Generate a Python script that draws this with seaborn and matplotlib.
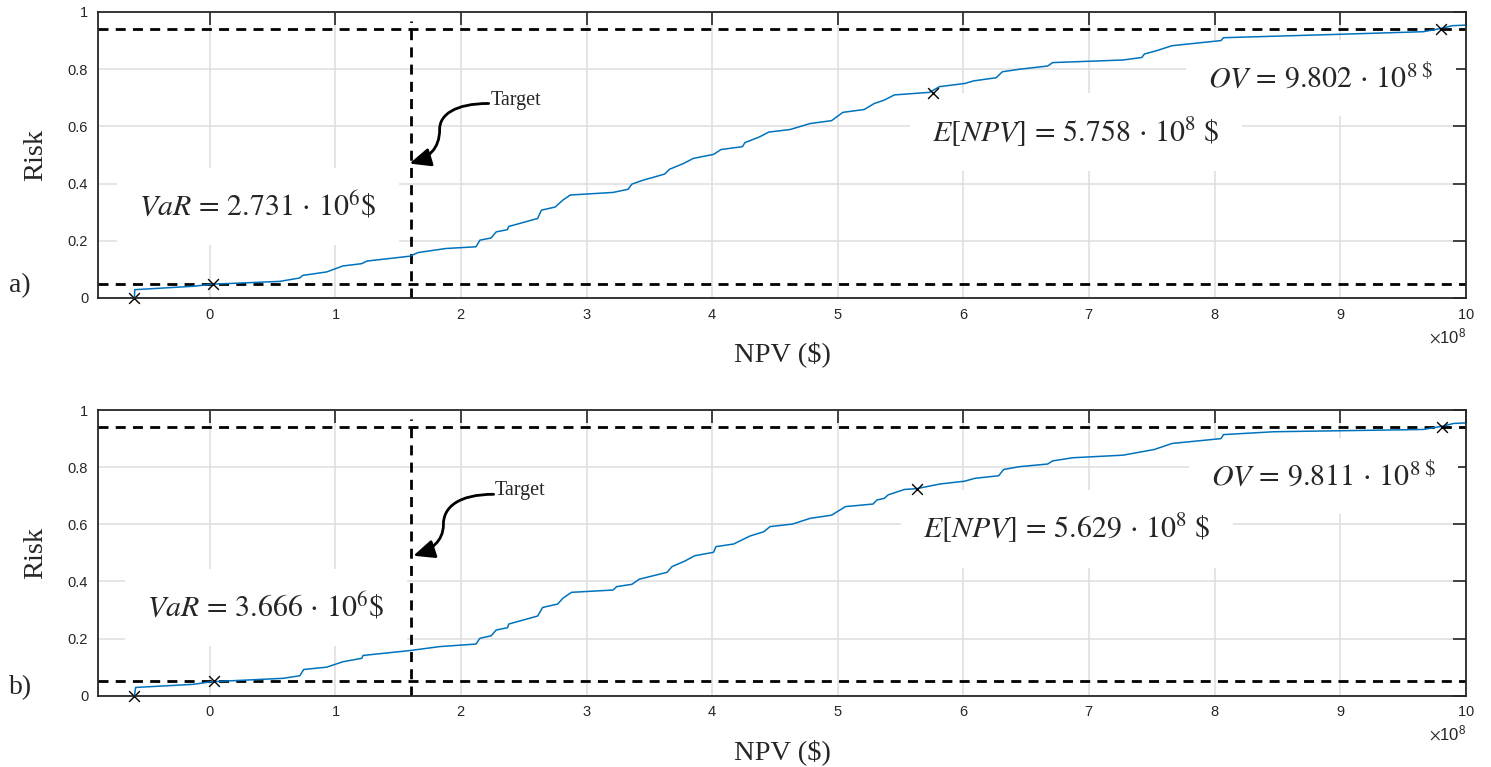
import numpy as np
import pandas as pd
import matplotlib
matplotlib.use("Agg")
import matplotlib.pyplot as plt
import seaborn as sns
from matplotlib.patches import FancyArrowPatch
from matplotlib.path import Path
from matplotlib.ticker import ScalarFormatter

# =====================================================
# DATA (NPV in units of 1e8 $, risk = cumulative probability)
# =====================================================
SCALE = 1e8

npv_a = [-0.60, -0.597, -0.13, 0.013, 0.557, 0.717, 0.74, 0.93, 1.06, 1.21, 1.25, 1.59,
         1.66, 1.88, 2.12, 2.15, 2.24, 2.28, 2.37, 2.38, 2.61, 2.64, 2.75, 2.81, 2.87,
         3.21, 3.33, 3.36, 3.45, 3.62, 3.66, 3.77, 3.85, 4.01, 4.07, 4.24, 4.26, 4.38,
         4.45, 4.62, 4.78, 4.95, 5.04, 5.21, 5.29, 5.37, 5.45, 5.73, 5.81, 6.01, 6.08,
         6.26, 6.31, 6.45, 6.67, 6.71, 7.27, 7.42, 7.44, 7.54, 7.66, 8.05, 8.07, 9.00,
         9.66, 9.81, 9.89, 10.0]
risk_a = [0, 0.029, 0.041, 0.048, 0.058, 0.07, 0.079, 0.091, 0.112, 0.12, 0.129, 0.146,
          0.159, 0.173, 0.179, 0.202, 0.21, 0.231, 0.239, 0.25, 0.278, 0.307, 0.318, 0.342,
          0.36, 0.369, 0.38, 0.398, 0.412, 0.433, 0.45, 0.47, 0.488, 0.502, 0.519, 0.529,
          0.543, 0.564, 0.58, 0.589, 0.61, 0.62, 0.649, 0.659, 0.68, 0.692, 0.71, 0.719,
          0.739, 0.75, 0.759, 0.77, 0.791, 0.8, 0.811, 0.823, 0.832, 0.841, 0.853, 0.865,
          0.882, 0.9, 0.91, 0.922, 0.931, 0.943, 0.952, 0.954]

npv_b = [-0.60, -0.59, -0.13, 0.013, 0.584, 0.717, 0.748, 0.93, 1.06, 1.21, 1.22, 1.59,
         1.83, 2.12, 2.15, 2.24, 2.28, 2.37, 2.38, 2.61, 2.65, 2.77, 2.81, 2.88, 3.21,
         3.24, 3.36, 3.42, 3.64, 3.68, 3.78, 3.86, 4.01, 4.03, 4.17, 4.30, 4.41, 4.46,
         4.64, 4.78, 4.95, 5.06, 5.28, 5.31, 5.37, 5.40, 5.53, 5.63, 5.81, 6.01, 6.09,
         6.28, 6.32, 6.45, 6.67, 6.71, 6.87, 7.27, 7.52, 7.66, 8.05, 8.07, 8.47, 9.66,
         9.82, 9.90, 10.0]
risk_b = [0, 0.029, 0.04, 0.049, 0.061, 0.07, 0.092, 0.1, 0.119, 0.131, 0.141, 0.158,
          0.172, 0.181, 0.201, 0.21, 0.23, 0.238, 0.251, 0.279, 0.309, 0.321, 0.341, 0.362,
          0.37, 0.382, 0.39, 0.408, 0.432, 0.452, 0.471, 0.49, 0.502, 0.522, 0.531, 0.559,
          0.574, 0.592, 0.601, 0.621, 0.632, 0.662, 0.671, 0.685, 0.691, 0.703, 0.722,
          0.725, 0.741, 0.751, 0.761, 0.77, 0.792, 0.802, 0.811, 0.822, 0.833, 0.842,
          0.862, 0.883, 0.9, 0.914, 0.924, 0.932, 0.944, 0.953, 0.955]

# marked points: min, VaR, E[NPV], OV
marks_x_a = [-0.60, 0.027, 5.758, 9.802]
marks_y_a = [0.0, 0.05, 0.717, 0.94]
marks_x_b = [-0.60, 0.037, 5.629, 9.811]
marks_y_b = [0.0, 0.05, 0.722, 0.94]

risk_low = 0.05
risk_high = 0.94
target_npv = 1.6

label_var_a = r'$VaR\,=\,2.731\,\cdot\,10^{6}\$$'
label_env_a = r'$E[NPV]\,=\,5.758\,\cdot\,10^{8}\ \$$'
label_ov_a = r'$OV\,=\,9.802\,\cdot\,10^{8\ \$}$'
label_var_b = r'$VaR\,=\,3.666\,\cdot\,10^{6}\$$'
label_env_b = r'$E[NPV]\,=\,5.629\,\cdot\,10^{8}\ \$$'
label_ov_b = r'$OV\,=\,9.811\,\cdot\,10^{8\ \$}$'

xticks = list(range(0, 11))
yticks = [0, 0.2, 0.4, 0.6, 0.8, 1.0]
ytick_labels = ['0', '0.2', '0.4', '0.6', '0.8', '1']

# =====================================================
# STYLE
# =====================================================
sns.set_style("white")
plt.rcParams['font.family'] = ['Liberation Serif', 'DejaVu Serif']
plt.rcParams['mathtext.fontset'] = 'stix'

BLUE = '#0072BD'
GRID = '#dedede'
TXT = '#262626'


def draw_panel(ax, npv, risk, mx, my, labels, label_pos, target_text, arrow_pts):
    df = pd.DataFrame({'NPV': np.array(npv) * SCALE, 'Risk': risk})
    sns.lineplot(data=df, x='NPV', y='Risk', ax=ax, color=BLUE, lw=1.1,
                 estimator=None, sort=False, zorder=5)
    marks = pd.DataFrame({'NPV': np.array(mx) * SCALE, 'Risk': my})
    sns.scatterplot(data=marks, x='NPV', y='Risk', ax=ax, marker='x', color='black',
                    s=60, linewidth=1.0, zorder=6, clip_on=False)

    dash = (0, (3.6, 2.6))
    ax.axhline(risk_low, color='black', lw=2, ls=dash, zorder=4)
    ax.axhline(risk_high, color='black', lw=2, ls=dash, zorder=4)
    ax.axvline(target_npv * SCALE, ymax=0.97, color='black', lw=2, ls=dash, zorder=4)

    # value labels on white boxes (hide the grid behind them)
    for s, (tx, ty) in zip(labels, label_pos):
        ax.text(tx * SCALE, ty, s, fontsize=21.5, ha='left', va='center', zorder=3,
                bbox=dict(boxstyle='square,pad=0.75', fc='white', ec='none'))

    # curved "Target" arrow
    tx, ty = target_text
    ax.text(tx * SCALE, ty, 'Target', fontsize=14.5, ha='left', va='center', zorder=6)
    verts = [(x * SCALE, y) for x, y in arrow_pts]
    codes = [Path.MOVETO, Path.CURVE4, Path.CURVE4, Path.CURVE4,
             Path.CURVE4, Path.CURVE4, Path.CURVE4]
    arrow = FancyArrowPatch(path=Path(verts, codes),
                            arrowstyle='-|>,head_length=0.8,head_width=0.35',
                            mutation_scale=16, color='black', lw=2, zorder=6)
    ax.add_patch(arrow)

    ax.set_xlim(-0.89 * SCALE, 10 * SCALE)
    ax.set_ylim(0, 1)
    ax.set_xticks([t * SCALE for t in xticks])
    ax.set_yticks(yticks, labels=ytick_labels)
    fmt = ScalarFormatter(useMathText=True)
    fmt.set_powerlimits((8, 8))
    ax.xaxis.set_major_formatter(fmt)

    ax.grid(True, color=GRID, lw=1.1)
    ax.set_axisbelow(True)
    ax.tick_params(direction='in', length=9.5, width=1.2, top=True, right=True,
                   color=TXT, labelcolor=TXT, labelsize=10.5, pad=7)
    for lab in ax.get_xticklabels() + ax.get_yticklabels():
        lab.set_family('Liberation Sans')
    off = ax.xaxis.get_offset_text()
    off.set_fontsize(12)
    off.set_color(TXT)
    off.set_family('Liberation Sans')
    for sp in ax.spines.values():
        sp.set_color(TXT)
        sp.set_linewidth(1.3)
        sp.set_zorder(7)

    ax.set_xlabel('NPV ($)', fontsize=20.5, labelpad=14)
    ax.set_ylabel('Risk', fontsize=20.5, labelpad=14)


# =====================================================
# FIGURE
# =====================================================
fig = plt.figure(figsize=(14.91, 7.67), dpi=100)
ax1 = fig.add_axes([0.0657, 0.6115, 0.9175, 0.3729])
ax2 = fig.add_axes([0.0657, 0.0929, 0.9175, 0.3725])

draw_panel(ax1, npv_a, risk_a, marks_x_a, marks_y_a,
           [label_var_a, label_env_a, label_ov_a],
           [(-0.56, 0.32), (5.75, 0.58), (7.95, 0.77)],
           (2.24, 0.692),
           [(2.22, 0.68), (1.95, 0.68), (1.83, 0.64), (1.83, 0.59),
            (1.83, 0.52), (1.74, 0.49), (1.59, 0.47)])
draw_panel(ax2, npv_b, risk_b, marks_x_b, marks_y_b,
           [label_var_b, label_env_b, label_ov_b],
           [(-0.50, 0.31), (5.68, 0.585), (7.97, 0.77)],
           (2.27, 0.72),
           [(2.26, 0.705), (1.98, 0.705), (1.86, 0.66), (1.86, 0.6),
            (1.86, 0.54), (1.76, 0.51), (1.62, 0.49)])

fig.text(0.006, 0.628, 'a)', fontsize=20, ha='left', va='center')
fig.text(0.006, 0.103, 'b)', fontsize=20, ha='left', va='center')

plt.savefig("out.png", dpi=100)
